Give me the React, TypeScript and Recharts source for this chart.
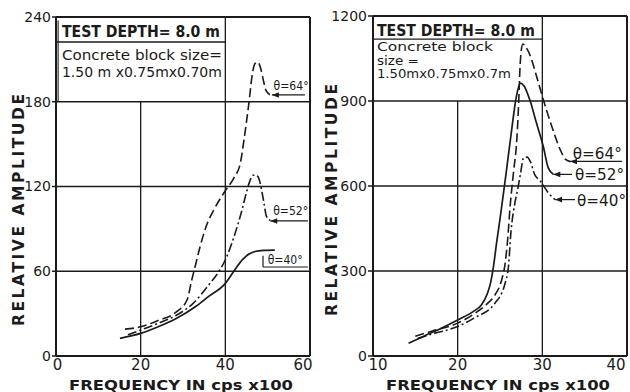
import React from 'react';
import { LineChart, Line, XAxis, YAxis, ReferenceLine, ReferenceDot } from 'recharts';

// ---------- data (frequency in cps x100, relative amplitude) ----------
const leftXTicks = [0, 20, 40, 60];
const leftYTicks = [0, 60, 120, 180, 240];
const rightXTicks = [10, 20, 30, 40];
const rightYTicks = [0, 300, 600, 900, 1200];

const left64: number[][] = [[16.3,19],[20,20.7],[24,25],[28.5,31.4],[31,40],[32,53],[33,65],[34,77],[35.5,92],[37.2,103],[40,117],[42,126],[43.5,136],[44.5,155],[45.6,180],[46.3,198],[47,207],[47.7,208],[48.4,203],[49,195],[49.6,188],[50.5,185]];
const left52: number[][] = [[17,15],[20,18.4],[24,23],[28.5,29],[32.4,37.3],[36,50],[38.5,60],[40.3,70],[42,84],[43.9,103],[45,116],[45.8,124],[46.5,128],[47.3,128],[48,125],[48.6,117],[49.2,107],[49.7,99],[50.6,96]];
const left40: number[][] = [[15.1,12.5],[20,16],[24,20.5],[28.5,26.7],[33,35],[36,42],[40,51.4],[42,60],[44,68],[45.5,72],[47,74],[49,74.8],[51.7,75]];

const right64: number[][] = [[15,70],[17,88],[20,116],[22,150],[23.5,185],[24.4,215],[25.2,269],[25.6,325],[25.9,410],[26.2,530],[26.6,650],[27,770],[27.2,890],[27.35,1010],[27.5,1075],[27.7,1101],[28,1092],[28.5,1065],[29.3,989],[30.1,906],[31.1,812],[32.1,729],[32.7,695],[33.3,686]];
const right52: number[][] = [[14.2,45],[16,70],[18,97],[20,127],[22,160],[22.8,180],[23.5,220],[23.9,260],[24.2,310],[24.6,400],[25.1,505],[25.7,640],[26.3,780],[26.9,910],[27.4,963],[27.8,955],[28.5,906],[29.3,823],[30.1,741],[30.7,664],[31.3,641]];
const right40: number[][] = [[15.3,62],[17,78],[20,104],[22,135],[24.4,186],[25.6,257],[26,316],[26.3,440],[26.7,530],[27.1,590],[27.4,640],[27.8,700],[28.2,702],[28.6,685],[29.1,640],[29.7,620],[30.7,576],[31.5,552]];

const boxHeader = 'TEST DEPTH= 8.0 m';
const leftBoxLines = ['Concrete block size=', '1.50 m x0.75mx0.70m'];
const rightBoxLines = ['Concrete block', 'size =', '1.50mx0.75mx0.7m'];
const xTitle = 'FREQUENCY IN cps x100';
const yTitle = 'RELATIVE AMPLITUDE';

// ---------- styles ----------
const INK = '#1b1b1b';
const SANS = "'DejaVu Sans', sans-serif";

const toPts = (arr: number[][]) => arr.map(([f, a]) => ({ f, a }));

const gridLine = (key: string, x1: number, y1: number, x2: number, y2: number, w = 1.3) => (
  <ReferenceLine
    key={key}
    segment={[{ x: x1, y: y1 }, { x: x2, y: y2 }]}
    stroke={INK}
    strokeWidth={w}
    ifOverflow="visible"
  />
);

const textAt = (key: string, x: number, y: number, s: string, style: any) => (
  <ReferenceDot
    key={key}
    x={x}
    y={y}
    r={1}
    fill="none"
    stroke="none"
    ifOverflow="visible"
    shape={(p: any) => (
      <text x={p.cx} y={p.cy} fill={INK} {...style}>
        {s}
      </text>
    )}
  />
);

const arrowAt = (key: string, x: number, y: number) => (
  <ReferenceDot
    key={key}
    x={x}
    y={y}
    r={1}
    fill="none"
    stroke="none"
    ifOverflow="visible"
    shape={(p: any) => <path d={`M${p.cx},${p.cy} l7,-2.8 l0,5.6 z`} fill={INK} />}
  />
);

const xTitleContent = (props: any) => {
  const vb = props.viewBox || { x: 0, y: 0, width: 0, height: 0 };
  return (
    <text
      x={vb.x + vb.width / 2 - 2}
      y={vb.y + 33.5}
      textAnchor="middle"
      fill={INK}
      fontFamily={SANS}
      fontWeight="bold"
      fontSize={14.5}
      textLength={224}
      lengthAdjust="spacingAndGlyphs"
    >
      {xTitle}
    </text>
  );
};

const yTitleContent = (cx: number, cy: number) => (props: any) => (
  <text
    transform={`translate(${cx},${cy}) rotate(-90)`}
    x={0}
    y={0}
    textAnchor="middle"
    fill={INK}
    fontFamily={SANS}
    fontWeight="bold"
    fontSize={15.5}
    textLength={232}
    lengthAdjust="spacing"
  >
    {yTitle}
  </text>
);

const makeXTick = (first: number, last: number, dFirst: number, dLast: number) => (props: any) => {
  const { x, y, payload } = props;
  let dx = 0;
  if (payload.value === first) dx = dFirst;
  if (payload.value === last) dx = dLast;
  return (
    <text x={x + dx} y={y} dy="0.75em" textAnchor="middle" fill={INK} fontFamily={SANS} fontSize={15}>
      {payload.value}
    </text>
  );
};

const axisLineStyle = { stroke: INK, strokeWidth: 2 };
const yTickStyle = { fill: INK, fontSize: 14, fontFamily: SANS };

const headerStyle = { fontFamily: SANS, fontWeight: 'bold', fontSize: 15.5, textLength: 158, lengthAdjust: 'spacingAndGlyphs' };
const leftBox1 = { fontFamily: SANS, fontSize: 14.5, textLength: 160, lengthAdjust: 'spacingAndGlyphs' };
const leftBox2 = { fontFamily: SANS, fontSize: 14.5, textLength: 160, lengthAdjust: 'spacingAndGlyphs' };
const rightBox1 = { fontFamily: SANS, fontSize: 11.5, textLength: 116, lengthAdjust: 'spacingAndGlyphs' };
const rightBox2 = { fontFamily: SANS, fontSize: 11.5, textLength: 42, lengthAdjust: 'spacingAndGlyphs' };
const rightBox3 = { fontFamily: SANS, fontSize: 11.5, textLength: 134, lengthAdjust: 'spacingAndGlyphs' };
const leftLabStyle = { fontFamily: SANS, fontSize: 13, textLength: 35, lengthAdjust: 'spacingAndGlyphs' };
const rightLabStyle = { fontFamily: SANS, fontSize: 15, textLength: 49, lengthAdjust: 'spacingAndGlyphs' };

function LeftChart() {
  return (
    <LineChart width={320} height={392} margin={{ top: 17, right: 10, bottom: 0, left: 0 }}>
      <XAxis
        type="number"
        dataKey="f"
        domain={[0, 60]}
        ticks={leftXTicks}
        height={36}
        axisLine={axisLineStyle}
        tickLine={false}
        tickSize={3}
        tick={makeXTick(0, 60, 1.5, -7)}
        tickMargin={0}
        allowDataOverflow
        label={{ content: xTitleContent }}
      />
      <YAxis
        type="number"
        dataKey="a"
        domain={[0, 240]}
        ticks={leftYTicks}
        width={56}
        axisLine={axisLineStyle}
        tickLine={{ stroke: INK, strokeWidth: 1.5 }}
        tickSize={4}
        tickMargin={1}
        tick={yTickStyle}
        allowDataOverflow
        label={{ content: yTitleContent(24, 210) }}
      />
      {gridLine('g60', 0, 60, 60, 60)}
      {gridLine('g120', 0, 120, 60, 120)}
      {gridLine('g180', 0, 180, 60, 180)}
      {gridLine('v20', 20, 0, 20, 180)}
      {gridLine('v40', 40, 0, 40, 240)}
      {gridLine('top', 0, 240, 60, 240, 2)}
      {gridLine('right', 60, 0, 60, 240, 2)}
      {gridLine('hdr', 0, 222.3, 40, 222.3)}
      {gridLine('boxl', 0.5, 180, 0.5, 237.5, 1.1)}
      {textAt('h', 1.4, 225.8, boxHeader, headerStyle)}
      {textAt('b1', 1.4, 209.6, leftBoxLines[0], leftBox1)}
      {textAt('b2', 1.4, 197.3, leftBoxLines[1], leftBox2)}

      <Line data={toPts(left64)} dataKey="a" type="monotone" stroke={INK} strokeWidth={1.6} strokeDasharray="9 4" dot={false} isAnimationActive={false} />
      <Line data={toPts(left52)} dataKey="a" type="monotone" stroke={INK} strokeWidth={1.6} strokeDasharray="9 3 2 3" dot={false} isAnimationActive={false} />
      <Line data={toPts(left40)} dataKey="a" type="monotone" stroke={INK} strokeWidth={1.7} dot={false} isAnimationActive={false} />

      {gridLine('l64', 51, 184.8, 58.8, 184.8, 1.2)}
      {arrowAt('a64', 51, 184.8)}
      {textAt('t64', 51.4, 188.5, 'θ=64°', leftLabStyle)}
      {gridLine('l52', 50.6, 95.6, 59.5, 95.6, 1.2)}
      {arrowAt('a52', 50.6, 95.6)}
      {textAt('t52', 51.3, 99.5, 'θ=52°', leftLabStyle)}
      {gridLine('l40v', 48.9, 63, 48.9, 71, 1.2)}
      {gridLine('l40h', 48.9, 63, 59.5, 63, 1.2)}
      {textAt('t40', 50, 65, 'θ=40°', leftLabStyle)}
    </LineChart>
  );
}

function RightChart() {
  return (
    <LineChart width={313} height={392} margin={{ top: 16, right: 3, bottom: 0, left: 0 }}>
      <XAxis
        type="number"
        dataKey="f"
        domain={[10, 40]}
        ticks={rightXTicks}
        height={36}
        axisLine={axisLineStyle}
        tickLine={false}
        tickSize={3}
        tick={makeXTick(10, 40, 5, -6)}
        tickMargin={0}
        allowDataOverflow
        label={{ content: xTitleContent }}
      />
      <YAxis
        type="number"
        dataKey="a"
        domain={[0, 1200]}
        ticks={rightYTicks}
        width={56}
        axisLine={axisLineStyle}
        tickLine={{ stroke: INK, strokeWidth: 1.5 }}
        tickSize={5}
        tickMargin={1}
        tick={yTickStyle}
        allowDataOverflow
        label={{ content: yTitleContent(20, 200) }}
      />
      {gridLine('g300', 10, 300, 40, 300)}
      {gridLine('g600', 10, 600, 40, 600)}
      {gridLine('g900', 10, 900, 40, 900)}
      {gridLine('v20', 20, 0, 20, 900)}
      {gridLine('v30', 30, 0, 30, 1200)}
      {gridLine('top', 10, 1200, 40, 1200, 2)}
      {gridLine('right', 40, 0, 40, 1200, 2)}
      {gridLine('hdr', 10, 1118.6, 30, 1118.6)}
      {textAt('h', 10.47, 1129, boxHeader, headerStyle)}
      {textAt('b1', 10.47, 1076, rightBoxLines[0], rightBox1)}
      {textAt('b2', 10.47, 1028, rightBoxLines[1], rightBox2)}
      {textAt('b3', 10.47, 980, rightBoxLines[2], rightBox3)}

      <Line data={toPts(right64)} dataKey="a" type="monotone" stroke={INK} strokeWidth={1.6} strokeDasharray="9 4" dot={false} isAnimationActive={false} />
      <Line data={toPts(right52)} dataKey="a" type="monotone" stroke={INK} strokeWidth={1.7} dot={false} isAnimationActive={false} />
      <Line data={toPts(right40)} dataKey="a" type="monotone" stroke={INK} strokeWidth={1.6} strokeDasharray="9 3 2 3" dot={false} isAnimationActive={false} />

      {gridLine('l64', 33.27, 686.7, 39.4, 686.7, 1.2)}
      {arrowAt('a64', 33.27, 686.7)}
      {textAt('t64', 33.6, 697, 'θ=64°', rightLabStyle)}
      {gridLine('l52', 31.3, 641, 33.5, 641, 1.2)}
      {arrowAt('a52', 31.3, 641)}
      {textAt('t52', 33.86, 620, 'θ=52°', rightLabStyle)}
      {gridLine('l40', 31.5, 552, 33.86, 552, 1.2)}
      {arrowAt('a40', 31.5, 552)}
      {textAt('t40', 34.1, 531, 'θ=40°', rightLabStyle)}
    </LineChart>
  );
}

export default function App() {
  return (
    <div style={{ position: 'absolute', left: 0, top: 0, width: 630, height: 392, background: '#fff', overflow: 'hidden' }}>
      <div style={{ position: 'absolute', left: 0, top: 0 }}>
        <LeftChart />
      </div>
      <div style={{ position: 'absolute', left: 317, top: 0 }}>
        <RightChart />
      </div>
    </div>
  );
}
